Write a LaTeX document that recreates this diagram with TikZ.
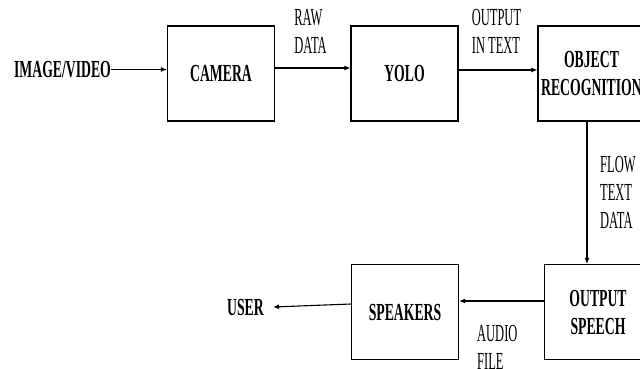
\documentclass[tikz,border=0pt]{standalone}
\usepackage{fontspec}
\setmainfont{Liberation Serif}[FakeStretch=0.56]
\newfontfamily\tagfont{Liberation Serif}[FakeStretch=0.51]
\usetikzlibrary{positioning, arrows.meta}

\begin{document}
\begin{tikzpicture}[x=1pt, y=-1pt,
            block/.style = {rectangle, draw, line width=1.2pt, minimum width=107pt, minimum height=95pt, align=center, inner sep=0pt, font=\fontsize{24.5}{28}\selectfont\bfseries},
            tag/.style = {align=left, inner sep=0pt, font=\tagfont\fontsize{24.5}{28}\selectfont},
            term/.style = {inner sep=0pt, font=\fontsize{24.5}{28}\selectfont\bfseries},
            flow/.style = {draw, line width=1.1pt, -{Latex[length=6pt, width=5pt]}},
        ]
            \path[use as bounding box, clip] (0,0) rectangle (640,368);

            % Top row of blocks
            \node[term] (img) at (62.5,69.5) {IMAGE/VIDEO};
            \node[block] (camera) at (221,73.5) {CAMERA};
            \node[block] (yolo) at (404.5,73.5) {YOLO};
            \node[block] (objrec) at (591.5,73.5) {OBJECT\\RECOGNITION};

            % Bottom row of blocks
            \node[block] (speech) at (598,312) {OUTPUT\\SPEECH};
            \node[block] (speakers) at (405,312) {SPEAKERS};
            \node[term] (user) at (245.5,307.5) {USER};

            % Edge labels
            \node[tag, anchor=north] (rawdata) at (310.5,9) {RAW\\DATA};
            \node[tag, anchor=north] (outtext) at (496.5,9) {OUTPUT\\IN TEXT};
            \node[tag, anchor=north west] (flowtext) at (600,156) {FLOW\\TEXT\\DATA};
            \node[tag, anchor=north west] (audio) at (477,325) {AUDIO\\FILE};

            % Forward chain along the top
            \draw[flow] (img.east) -- (img.east -| camera.west);
            \draw[flow] ([yshift=5.5pt]camera.east) -- ([yshift=5.5pt]yolo.west);
            \draw[flow] ([yshift=3.5pt]yolo.east) -- ([yshift=3.5pt]objrec.west);

            % Down to speech, then back to the user
            \draw[flow] ([xshift=-4.5pt]objrec.south) -- ([xshift=-4.5pt]objrec.south |- speech.north);
            \draw[flow] ([yshift=11pt]speech.west) -- ([yshift=11pt]speakers.east);
            \draw[flow] ([yshift=8pt]speakers.west) -- ([xshift=9pt,yshift=0.5pt]user.east);
        \end{tikzpicture}
\end{document}
